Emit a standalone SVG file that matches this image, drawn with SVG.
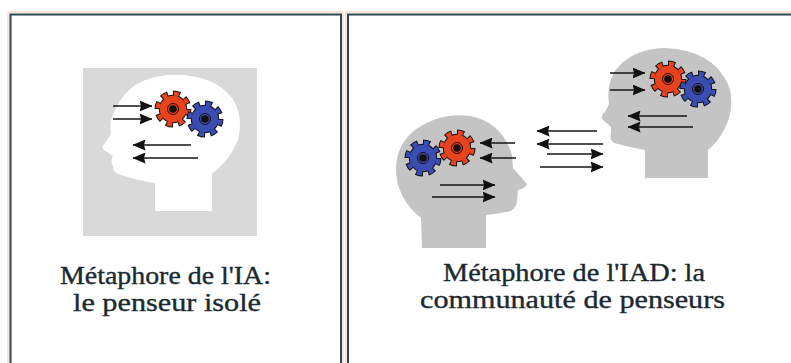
<svg xmlns="http://www.w3.org/2000/svg" xmlns:xlink="http://www.w3.org/1999/xlink" width="791" height="363" viewBox="0 0 791 363">
  <style>
    .frame { fill: none; stroke: #2c4852; stroke-width: 2; }
    .halo { fill: none; stroke: #f3cdb8; stroke-width: 1; }
    .arrow { stroke: #151515; stroke-width: 1.7; fill: none; marker-end: url(#head); }
    .caption { font-family: "Liberation Serif", "Times New Roman", serif; font-size: 25px; fill: #1b2a30; stroke: #1b2a30; stroke-width: 0.35; }
    .red { color: #e8431f; }
    .blue { color: #3a4db3; }
  </style>
  <defs>
    <marker id="head" viewBox="0 0 13 11" refX="12.5" refY="5.5" markerWidth="13" markerHeight="11" markerUnits="userSpaceOnUse" orient="auto">
      <path d="M0,0 L13,5.5 L0,11 L1.5,5.5 Z" fill="#111"/>
    </marker>
    <!-- cog wheel: black silhouette, coloured body on top, dark hub -->
    <g id="gear">
      <circle r="14.2" fill="#111"/>
      <circle r="16" fill="none" stroke="#111" stroke-width="5" pathLength="80" stroke-dasharray="5.8 4.2"/>
      <circle r="13.2" fill="currentColor"/>
      <circle r="15.3" fill="none" stroke="currentColor" stroke-width="4.4" pathLength="80" stroke-dasharray="4.2 5.8" stroke-dashoffset="-0.8"/>
      <circle r="5.5" fill="none" stroke="#2a0a0a" stroke-width="1"/>
      <circle r="3.8" fill="#111"/>
    </g>
  </defs>

  <rect width="791" height="363" fill="#ffffff"/>

  <!-- panel frames -->
  <g id="frames">
    <path class="halo" d="M8,370 L8,12 L343,12 L343,370"/>
    <path class="halo" d="M346,370 L346,12 L800,12"/>
    <path class="frame" d="M10.5,370 L10.5,14.5 L341,14.5 L341,370"/>
    <path class="frame" d="M348,370 L348,14.5 L800,14.5"/>
  </g>

  <!-- single thinker -->
  <g id="thinker-alone">
    <rect x="83" y="68" width="174" height="168" fill="#d9d9d9"/>
    <path fill="#ffffff" d="M155,211 L155,183 Q140,181 121,175 Q112,172 113,166 Q110,161 113,156 L104,150 Q101,147 105,143 L111,134 Q108,122 116,108 Q130,78 168,75 Q212,73 232,98 Q244,116 238,140 Q230,160 212,174 L212,211 Z"/>
    <use xlink:href="#gear" href="#gear" class="red" transform="translate(173,109)"/>
    <use xlink:href="#gear" href="#gear" class="blue" transform="translate(205,119)"/>
  </g>

  <!-- first thinker of the community (facing right) -->
  <g id="thinker-a">
    <path fill="#c4c4c4" d="M422,248 L421,218 Q404,205 398,185 Q390,150 415,130 Q440,112 470,116 Q502,122 512,155 L513,168 L527,184 Q526,188 518,190 L517,200 Q517,207 511,211 Q495,214 486,215 L486,248 Z"/>
    <use xlink:href="#gear" href="#gear" class="blue" transform="translate(423,158)"/>
    <use xlink:href="#gear" href="#gear" class="red" transform="translate(457,148)"/>
  </g>

  <!-- second thinker of the community (facing left) -->
  <g id="thinker-b">
    <path fill="#c4c4c4" d="M645,178 L645,150 Q628,147 614,143 Q609,139 611,133 L611,127 L602,119 Q601,115 605,112 L609,104 Q606,88 614,72 Q632,48 665,48 Q712,50 728,84 Q736,105 725,128 Q718,142 708,150 L708,178 Z"/>
    <use xlink:href="#gear" href="#gear" class="red" transform="translate(668,79)"/>
    <use xlink:href="#gear" href="#gear" class="blue" transform="translate(698,89)"/>
  </g>

  <!-- message arrows -->
  <g id="connectors">
    <line class="arrow" x1="113" y1="106" x2="152" y2="106"/>
    <line class="arrow" x1="113" y1="119" x2="152" y2="119"/>
    <line class="arrow" x1="191" y1="145" x2="133" y2="145"/>
    <line class="arrow" x1="198" y1="158" x2="133" y2="158"/>

    <line class="arrow" x1="515" y1="143" x2="480" y2="143"/>
    <line class="arrow" x1="516" y1="158" x2="480" y2="158"/>
    <line class="arrow" x1="440" y1="185" x2="495" y2="185"/>
    <line class="arrow" x1="432" y1="197" x2="495" y2="197"/>

    <line class="arrow" x1="597" y1="131" x2="537" y2="131"/>
    <line class="arrow" x1="603" y1="144" x2="537" y2="144"/>
    <line class="arrow" x1="547" y1="154" x2="603" y2="154"/>
    <line class="arrow" x1="540" y1="167" x2="603" y2="167"/>

    <line class="arrow" x1="610" y1="73" x2="645" y2="73"/>
    <line class="arrow" x1="610" y1="90" x2="645" y2="90"/>
    <line class="arrow" x1="687" y1="116" x2="628" y2="116"/>
    <line class="arrow" x1="693" y1="127" x2="628" y2="127"/>
  </g>

  <!-- captions -->
  <g id="captions">
    <text class="caption" x="60" y="284" textLength="211" lengthAdjust="spacingAndGlyphs">Métaphore de l'IA:</text>
    <text class="caption" x="73" y="311" textLength="188" lengthAdjust="spacingAndGlyphs">le penseur isolé</text>
    <text class="caption" x="443" y="281" textLength="262" lengthAdjust="spacingAndGlyphs">Métaphore de l'IAD: la</text>
    <text class="caption" x="420" y="308" textLength="305" lengthAdjust="spacingAndGlyphs">communauté de penseurs</text>
  </g>
</svg>
